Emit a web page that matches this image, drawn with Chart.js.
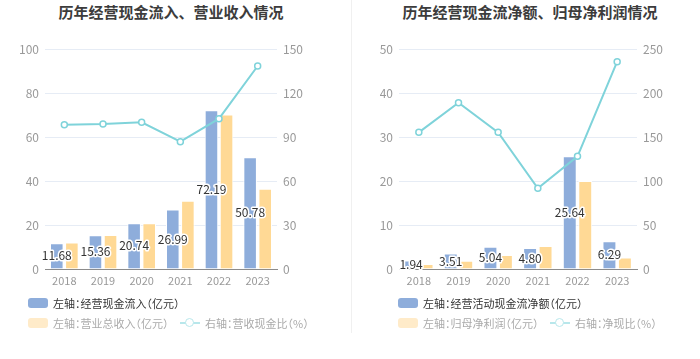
<!DOCTYPE html>
<html>
<head>
<meta charset="utf-8">
<script src="https://cdn.jsdelivr.net/npm/chart.js@4"></script>
<style>
  body { margin: 0; background: #fff; font-family: "Noto Sans CJK SC", sans-serif; }
  #wrap { position: relative; width: 700px; height: 359px; overflow: hidden; }
  .title { position: absolute; top: 1px; font-size: 15px; font-weight: bold; color: #3c3c3c; text-align: center; width: 350px; }
  .cv { position: absolute; top: 0; }
  .sep { position: absolute; left: 351px; top: 0; width: 1px; height: 333px; background: #f0f0f0; }
  .lg { position: absolute; font-size: 11px; line-height: 14px; white-space: nowrap; font-feature-settings: "halt"; }
  .sw { position: absolute; width: 20px; height: 10px; border-radius: 3px; }
  .ln { position: absolute; width: 20px; height: 2px; }
  .dot { position: absolute; width: 7px; height: 7px; border-radius: 50%; background: #fff; }
</style>
</head>
<body>
<div id="wrap">
  <div class="title" style="left:-4px">历年经营现金流入、营业收入情况</div>
  <div class="title" style="left:355px">历年经营现金流净额、归母净利润情况</div>
  <canvas id="c1" class="cv" style="left:0" width="350" height="300"></canvas>
  <canvas id="c2" class="cv" style="left:350px" width="350" height="300"></canvas>
  <div class="sep"></div>

  <div class="sw" style="left:28px;top:298px;background:#8eaddb"></div>
  <div class="lg" style="left:53px;top:296px;color:#333">左轴：经营现金流入（亿元）</div>
  <div class="sw" style="left:28px;top:318px;background:#ffebc9"></div>
  <div class="lg" style="left:53px;top:316px;color:#aaa">左轴：营业总收入（亿元）</div>
  <div class="ln" style="left:180px;top:322px;background:#b8e7eb"></div>
  <div class="dot" style="left:185px;top:318px;border:1.5px solid #b8e7eb"></div>
  <div class="lg" style="left:205px;top:316px;color:#aaa">右轴：营收现金比（%）</div>

  <div class="sw" style="left:398px;top:298px;background:#8eaddb"></div>
  <div class="lg" style="left:423px;top:296px;color:#333">左轴：经营活动现金流净额（亿元）</div>
  <div class="sw" style="left:398px;top:318px;background:#ffebc9"></div>
  <div class="lg" style="left:423px;top:316px;color:#aaa">左轴：归母净利润（亿元）</div>
  <div class="ln" style="left:550px;top:322px;background:#b8e7eb"></div>
  <div class="dot" style="left:555px;top:318px;border:1.5px solid #b8e7eb"></div>
  <div class="lg" style="left:575px;top:316px;color:#aaa">右轴：净现比（%）</div>
</div>
<script>
const years = ["2018", "2019", "2020", "2021", "2022", "2023"];

// left chart
const cashInflow = [11.68, 15.36, 20.74, 26.99, 72.19, 50.78];
const revenue = [12.0, 15.5, 20.8, 31.0, 70.2, 36.5];
const cashRevRatio = [98.4, 98.9, 100.0, 86.8, 102.5, 138.4];

// right chart
const netCashFlow = [1.94, 3.51, 5.04, 4.80, 25.64, 6.29];
const netProfit = [1.15, 1.85, 3.2, 5.25, 20.0, 2.6];
const netCashRatio = [155.3, 189.0, 155.3, 91.7, 128.0, 235.6];

const BLUE = "#8eaddb";
const YELLOW = "#ffd995";
const CYAN = "#7fd3da";
const FONT = "Noto Sans CJK SC";

const barLabels = {
  id: "barLabels",
  afterDatasetsDraw(chart) {
    const ctx = chart.ctx;
    const meta = chart.getDatasetMeta(1);
    const vals = chart.data.datasets[1].data;
    ctx.save();
    ctx.font = "12px '" + FONT + "'";
    ctx.textAlign = "center";
    ctx.textBaseline = "middle";
    ctx.lineJoin = "round";
    meta.data.forEach((bar, i) => {
      const y = (bar.y + bar.base) / 2;
      const txt = vals[i].toFixed(2);
      ctx.lineWidth = 3;
      ctx.strokeStyle = "#fff";
      ctx.strokeText(txt, bar.x, y);
      ctx.fillStyle = "#333";
      ctx.fillText(txt, bar.x, y);
    });
    ctx.restore();
  },
};

function makeChart(id, bars1, bars2, line, leftMax, leftStep, rightMax, rightStep, leftW, rightW) {
  new Chart(document.getElementById(id), {
    type: "bar",
    data: {
      labels: years,
      datasets: [
        {
          type: "line",
          data: line,
          yAxisID: "y1",
          borderColor: CYAN,
          borderWidth: 2,
          pointRadius: 3,
          pointBorderWidth: 1.5,
          pointBackgroundColor: "#fff",
          pointBorderColor: CYAN,
          tension: 0,
          order: 0,
        },
        {
          data: bars1,
          yAxisID: "y",
          backgroundColor: BLUE,
          borderColor: "#fff",
          borderWidth: 1,
          categoryPercentage: 0.78,
          barPercentage: 0.9,
          order: 1,
        },
        {
          data: bars2,
          yAxisID: "y",
          backgroundColor: YELLOW,
          borderColor: "#fff",
          borderWidth: 1,
          categoryPercentage: 0.78,
          barPercentage: 0.9,
          order: 1,
        },
      ],
    },
    options: {
      responsive: false,
      animation: false,
      layout: { padding: { top: 49, bottom: 0, left: 0, right: 0 } },
      plugins: { legend: { display: false }, tooltip: { enabled: false } },
      scales: {
        x: {
          grid: { display: false, drawTicks: false },
          border: { color: "#8c8c8c" },
          ticks: { color: "#999", font: { family: FONT, size: 11 }, padding: 5 },
          afterFit: (s) => { s.height = 31; },
        },
        y: {
          position: "left",
          min: 0,
          max: leftMax,
          ticks: { stepSize: leftStep, color: "#999", font: { family: FONT, size: 12 }, padding: 6 },
          grid: { color: "#e6ecf5", drawTicks: false },
          border: { display: false },
          afterFit: (s) => { s.width = leftW; },
        },
        y1: {
          position: "right",
          min: 0,
          max: rightMax,
          ticks: { stepSize: rightStep, color: "#999", font: { family: FONT, size: 12 }, padding: 6 },
          grid: { display: false, drawTicks: false },
          border: { display: false },
          afterFit: (s) => { s.width = rightW; },
        },
      },
    },
    plugins: [barLabels],
  });
}

makeChart("c1", cashInflow, revenue, cashRevRatio, 100, 20, 150, 30, 45, 73);
makeChart("c2", netCashFlow, netProfit, netCashRatio, 50, 10, 250, 50, 49, 63);
</script>
</body>
</html>
